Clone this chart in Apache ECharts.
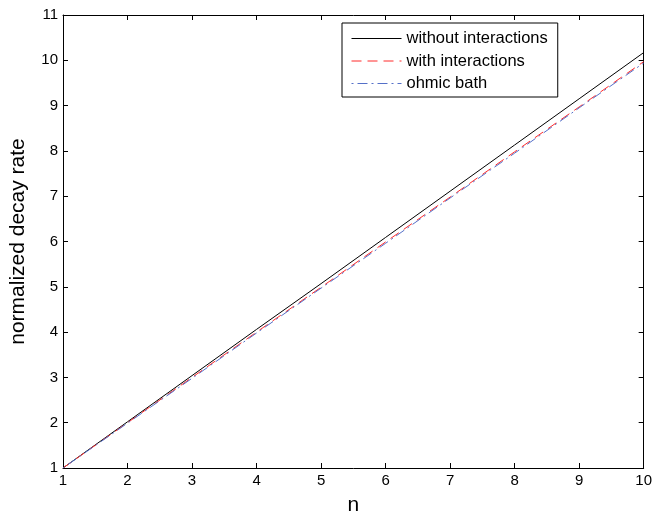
<!DOCTYPE html>
<html>
<head>
<meta charset="utf-8">
<script src="https://cdn.jsdelivr.net/npm/echarts@6/dist/echarts.min.js"></script>
<style>
  html, body { margin: 0; padding: 0; background: #fff; }
  #chart { width: 655px; height: 521px; }
</style>
</head>
<body>
<div id="chart"></div>
<script>
// values
const nVals = [1, 2, 3, 4, 5, 6, 7, 8, 9, 10]
const withoutInter = [1, 2.02, 3.04, 4.06, 5.07, 6.09, 7.11, 8.13, 9.15, 10.17]
const withInter = [1, 2.0, 3.0, 4.0, 4.99, 5.99, 6.98, 7.98, 8.97, 9.97]
const ohmicBath = [1, 1.99, 2.98, 3.98, 4.97, 5.96, 6.96, 7.95, 8.95, 9.94]

const pairs = vals => nVals.map((n, i) => [n, vals[i]])

const fontFam = '"Liberation Sans", Arial, sans-serif'
const mChart = echarts.init(document.getElementById('chart'))

const axisBase = {
    type: 'value',
    splitLine: { show: false },
    axisLine: { show: true, onZero: false, lineStyle: { color: '#000', width: 1 } },
    axisTick: { show: true, inside: true, length: 5, lineStyle: { color: '#000' } }
}

const option = {
    animation: false,
    grid: { left: 62, right: 10, top: 15, bottom: 48 },
    legend: {
        orient: 'vertical',
        left: 342,
        top: 23,
        padding: [7, 10, 5, 9],
        itemGap: 5.5,
        itemWidth: 50,
        itemHeight: 18,
        borderColor: '#000',
        borderWidth: 1,
        backgroundColor: '#fff',
        itemStyle: { opacity: 0 },
        lineStyle: { width: 1 },
        textStyle: { fontFamily: fontFam, fontSize: 16.5, color: '#000' },
        data: ['without interactions', 'with interactions', 'ohmic bath']
    },
    xAxis: [
        Object.assign({}, axisBase, {
            min: 1, max: 10, interval: 1,
            name: 'n', nameLocation: 'middle', nameGap: 27,
            nameTextStyle: { fontFamily: fontFam, fontSize: 21, color: '#000' },
            axisLabel: { fontFamily: fontFam, fontSize: 15, color: '#000', margin: 5 }
        }),
        Object.assign({}, axisBase, {
            position: 'top', min: 1, max: 10, interval: 1,
            axisLabel: { show: false }
        })
    ],
    yAxis: [
        Object.assign({}, axisBase, {
            min: 1, max: 11, interval: 1,
            name: 'normalized decay rate', nameLocation: 'middle', nameGap: 34,
            nameTextStyle: { fontFamily: fontFam, fontSize: 21, color: '#000' },
            axisLabel: { fontFamily: fontFam, fontSize: 15, color: '#000', margin: 5 }
        }),
        Object.assign({}, axisBase, {
            position: 'right', min: 1, max: 11, interval: 1,
            axisLabel: { show: false }
        })
    ],
    series: [
        {
            name: 'without interactions', type: 'line', symbol: 'none',
            data: pairs(withoutInter),
            itemStyle: { color: '#000' },
            lineStyle: { color: '#000', width: 1, type: 'solid' }
        },
        {
            name: 'with interactions', type: 'line', symbol: 'none',
            data: pairs(withInter),
            itemStyle: { color: '#ff2a2a' },
            lineStyle: { color: '#ff2a2a', width: 1, type: [10, 6] }
        },
        {
            name: 'ohmic bath', type: 'line', symbol: 'none',
            data: pairs(ohmicBath),
            itemStyle: { color: '#5570c8' },
            lineStyle: { color: '#5570c8', width: 1, type: [2, 4, 10, 4] }
        }
    ]
}
mChart.setOption(option)
</script>
</body>
</html>
